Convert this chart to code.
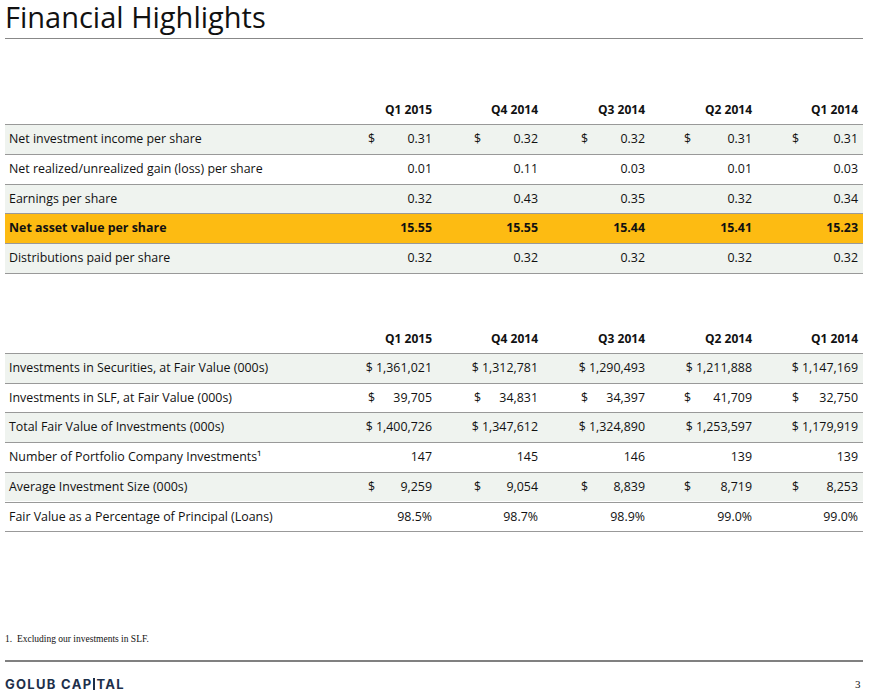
<!DOCTYPE html>
<html><head><meta charset="utf-8">
<script src="https://cdn.jsdelivr.net/npm/chart.js@4"></script>
<style>
body{margin:0;width:872px;height:697px;background:#fff;font-family:"Open Sans",sans-serif;color:#111;position:relative;overflow:hidden}
.a{position:absolute;white-space:nowrap}
.t{font-size:12.4px;}
.h{font-size:12px;font-weight:bold}
</style></head><body>
<script>
const quarters=["Q1 2015","Q4 2014","Q3 2014","Q2 2014","Q1 2014"];
const t1Labels=["Net investment income per share","Net realized/unrealized gain (loss) per share","Earnings per share","Net asset value per share","Distributions paid per share"];
const t1Values=[["0.31","0.32","0.32","0.31","0.31"],["0.01","0.11","0.03","0.01","0.03"],["0.32","0.43","0.35","0.32","0.34"],["15.55","15.55","15.44","15.41","15.23"],["0.32","0.32","0.32","0.32","0.32"]];
const t1Dollar=[true,false,false,false,false];
const t2Labels=["Investments in Securities, at Fair Value (000s)","Investments in SLF, at Fair Value (000s)","Total Fair Value of Investments (000s)","Number of Portfolio Company Investments\u00b9","Average Investment Size (000s)","Fair Value as a Percentage of Principal (Loans)"];
const t2Values=[["$ 1,361,021","$ 1,312,781","$ 1,290,493","$ 1,211,888","$ 1,147,169"],["39,705","34,831","34,397","41,709","32,750"],["$ 1,400,726","$ 1,347,612","$ 1,324,890","$ 1,253,597","$ 1,179,919"],["147","145","146","139","139"],["9,259","9,054","8,839","8,719","8,253"],["98.5%","98.7%","98.9%","99.0%","99.0%"]];
const t2Dollar=[false,true,false,false,true,false];

const rightEdges=[432,538,645,752,858], dollarX=[368,474,581,684,792];
function el(html,x,y,cls,style){const d=document.createElement('div');d.className='a '+(cls||'');d.innerHTML=html;d.style.left=x+'px';d.style.top=y+'px';if(style)d.style.cssText+=style;document.body.appendChild(d);return d;}
function rect(x,y,w,h,c){el('',x,y,'','width:'+w+'px;height:'+h+'px;background:'+c);}
function table(headY,top,rowH,labels,vals,dollars,hl){
  quarters.forEach((q,i)=>el(q,0,headY,'h','width:'+rightEdges[i]+'px;text-align:right'));
  labels.forEach((l,r)=>{
    const y=top+r*rowH;
    let bg = r===hl ? '#fdbb12' : (r%2===0 ? '#eff3ef' : '#fff');
    rect(5,y,858,rowH,bg);
    rect(5,y,858,1,'#999');
    const b = r===hl?'font-weight:bold;':'';
    el(l,9,y+6,'t',b);
    vals[r].forEach((v,i)=>{
      el(v,0,y+6,'t',b+'width:'+rightEdges[i]+'px;text-align:right');
      if(dollars[r]) el('$',dollarX[i],y+6,'t');
    });
  });
  rect(5,top+labels.length*rowH,858,1,'#999');
}
el('Financial Highlights',5,1,'','font-size:29px;line-height:32px;');
rect(5,38,858,1,'#888');
table(101,124,29.8,t1Labels,t1Values,t1Dollar,3);
table(330,353,29.7,t2Labels,t2Values,t2Dollar,-1);
el('1.&nbsp; Excluding our investments in SLF.',5,634,'','font-family:\"Liberation Serif\",serif;font-size:9.5px;');
rect(5,660,858,2,'#808080');
el('GOLUB CAP<span style="display:inline-block;width:2px;height:12px;background:#1d2f4b;vertical-align:-1px;margin:0 1px"></span>TAL',5,676,'','font-family:Inter,sans-serif;font-weight:bold;font-size:13px;letter-spacing:1.3px;color:#1d2f4b');
el('3',855,678,'','font-family:\"Liberation Serif\",serif;font-size:11px;');
</script>
</body></html>
